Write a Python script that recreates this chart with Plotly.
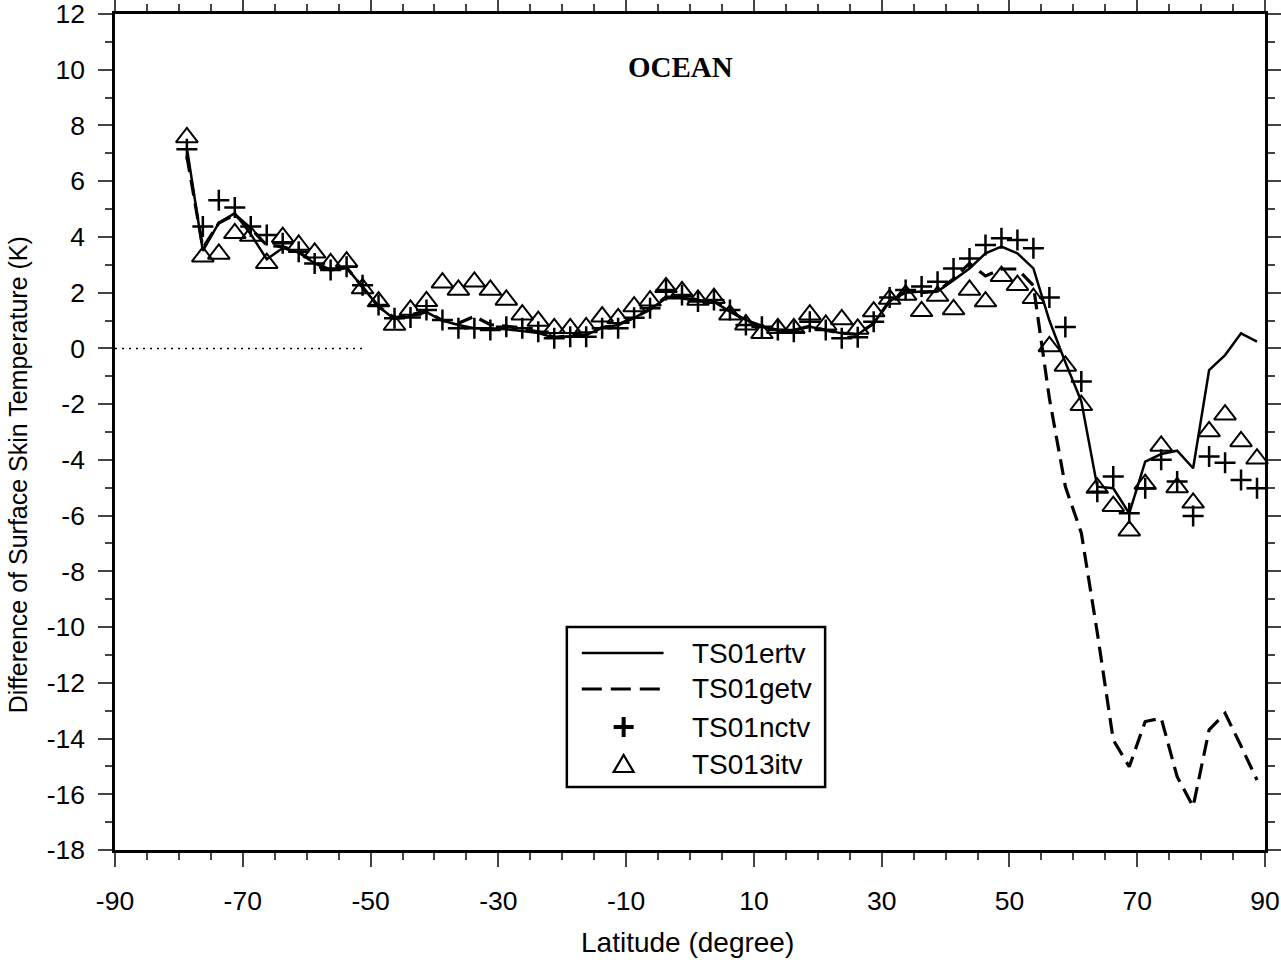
import plotly.graph_objects as go

# Latitude of zonal-mean bands (degree)
lat = [-78.75, -76.25, -73.75, -71.25, -68.75, -66.25, -63.75, -61.25, -58.75, -56.25,
       -53.75, -51.25, -48.75, -46.25, -43.75, -41.25, -38.75, -36.25, -33.75, -31.25,
       -28.75, -26.25, -23.75, -21.25, -18.75, -16.25, -13.75, -11.25, -8.75, -6.25,
       -3.75, -1.25, 1.25, 3.75, 6.25, 8.75, 11.25, 13.75, 16.25, 18.75,
       21.25, 23.75, 26.25, 28.75, 31.25, 33.75, 36.25, 38.75, 41.25, 43.75,
       46.25, 48.75, 51.25, 53.75, 56.25, 58.75, 61.25, 63.75, 66.25, 68.75,
       71.25, 73.75, 76.25, 78.75, 81.25, 83.75, 86.25, 88.75]

# Surface skin temperature differences (K)
ts01ertv = [7.2, 3.5, 4.5, 4.85, 4.1, 3.2, 3.6, 3.45, 3.05, 2.8,
            2.9, 2.2, 1.5, 1.05, 1.15, 1.3, 1.0, 0.84, 0.72, 0.72,
            0.69, 0.62, 0.55, 0.38, 0.42, 0.48, 0.75, 0.84, 1.1, 1.4,
            1.8, 1.8, 1.74, 1.68, 1.32, 1.02, 0.78, 0.66, 0.66, 0.78,
            0.66, 0.54, 0.5, 0.9, 1.7, 2.0, 2.04, 2.04, 2.45, 2.87,
            3.41, 3.65, 3.41, 2.87, 1.0, -0.5, -1.9, -4.96, -5.02, -5.92,
            -4.06, -3.79, -3.67, -4.30, -0.78, -0.24, 0.54, 0.24]

ts01getv = [6.9, 3.6, 4.5, 4.8, 4.3, 3.7, 3.65, 3.45, 3.1, 2.8,
            2.9, 2.2, 1.5, 1.1, 1.2, 1.35, 1.0, 0.9, 1.15, 0.85,
            0.8, 0.7, 0.6, 0.4, 0.45, 0.5, 0.75, 0.85, 1.1, 1.4,
            1.85, 1.8, 1.75, 1.7, 1.35, 1.0, 0.8, 0.65, 0.65, 0.8,
            0.65, 0.55, 0.5, 0.9, 1.7, 2.05, 2.0, 2.05, 2.5, 3.05,
            2.6, 2.85, 2.85, 2.25, -1.79, -4.96, -6.62, -10.2, -14.05, -15.01,
            -13.39, -13.27, -15.37, -16.44, -13.69, -13.09, -14.27, -15.49]

ts01nctv = [7.15, 4.37, 5.32, 5.06, 4.37, 4.07, 3.77, 3.47, 3.05, 2.81,
            2.93, 2.27, 1.56, 1.08, 1.11, 1.38, 1.02, 0.72, 0.72, 0.66,
            0.78, 0.72, 0.60, 0.36, 0.42, 0.42, 0.72, 0.72, 1.1, 1.44,
            2.10, 1.92, 1.68, 1.74, 1.38, 0.84, 0.78, 0.66, 0.60, 0.96,
            0.66, 0.36, 0.4, 0.96, 1.83, 2.10, 2.22, 2.39, 2.87, 3.23,
            3.71, 3.95, 3.89, 3.59, 1.83, 0.77, -1.19, -5.14, -4.60, -5.92,
            -5.02, -4.00, -4.78, -6.01, -3.88, -4.10, -4.72, -5.02]

ts013itv = [7.57, 3.29, 3.39, 4.13, 4.03, 3.06, 3.99, 3.71, 3.43, 3.05,
            3.11, 2.15, 1.68, 0.84, 1.38, 1.69, 2.36, 2.10, 2.39, 2.10,
            1.74, 1.21, 0.98, 0.72, 0.72, 0.75, 1.14, 1.08, 1.50, 1.71,
            2.19, 2.05, 1.74, 1.80, 1.21, 0.85, 0.54, 0.72, 0.72, 1.21,
            0.84, 1.04, 0.70, 1.32, 1.77, 1.92, 1.33, 1.88, 1.40, 2.10,
            1.68, 2.59, 2.27, 1.80, 0.07, -0.63, -2.04, -5.01, -5.66, -6.54,
            -4.87, -3.50, -4.99, -5.54, -2.98, -2.38, -3.34, -3.96]

# Dotted zero reference over the southern ocean
zero_ref_lat = [-90, -51]
zero_ref_val = [0, 0]

series_names = ["TS01ertv", "TS01getv", "TS01nctv", "TS013itv"]
x_ticks = [-90, -70, -50, -30, -10, 10, 30, 50, 70, 90]
y_ticks = [-18, -16, -14, -12, -10, -8, -6, -4, -2, 0, 2, 4, 6, 8, 10, 12]

SANS = "Liberation Sans, Arial, Helvetica, sans-serif"
SERIF = "Liberation Serif, Times New Roman, serif"
DASH = "16px,8px"

fig = go.Figure()

fig.add_trace(go.Scatter(x=zero_ref_lat, y=zero_ref_val, mode="lines",
                         line=dict(color="black", width=1.5, dash="2px,5px"),
                         hoverinfo="skip", showlegend=False))
fig.add_trace(go.Scatter(x=lat, y=ts01ertv, mode="lines", name=series_names[0],
                         line=dict(color="black", width=2.5), showlegend=False))
fig.add_trace(go.Scatter(x=lat, y=ts01getv, mode="lines", name=series_names[1],
                         line=dict(color="black", width=3.2, dash=DASH), showlegend=False))
fig.add_trace(go.Scatter(x=lat, y=ts01nctv, mode="markers", name=series_names[2],
                         marker=dict(symbol="cross-thin", size=15, color="black",
                                     line=dict(color="black", width=2.5)),
                         cliponaxis=False, showlegend=False))
fig.add_trace(go.Scatter(x=lat, y=ts013itv, mode="markers", name=series_names[3],
                         marker=dict(symbol="triangle-up-open", size=19, color="black",
                                     line=dict(color="black", width=2)),
                         cliponaxis=False, showlegend=False))

# Hand-built legend box (line samples are longer than Plotly's defaults)
box = dict(x0=0.3929, x1=0.6175, y0=0.0754, y1=0.2667)
rows_y = [0.2356, 0.1926, 0.1471, 0.1017]
sample_x = (0.4059, 0.4770)
marker_x = 0.4423
text_x = 0.5004

shapes = [dict(type="rect", xref="paper", yref="paper", x0=box["x0"], x1=box["x1"],
               y0=box["y0"], y1=box["y1"], line=dict(color="black", width=2.5),
               fillcolor="white", layer="above")]
shapes.append(dict(type="line", xref="paper", yref="paper", x0=sample_x[0], x1=sample_x[1],
                   y0=rows_y[0], y1=rows_y[0], line=dict(color="black", width=2.5)))
shapes.append(dict(type="line", xref="paper", yref="paper", x0=sample_x[0], x1=sample_x[1],
                   y0=rows_y[1], y1=rows_y[1], line=dict(color="black", width=3, dash="20px,9px")))
shapes.append(dict(type="path", xref="paper", yref="paper", xsizemode="pixel", ysizemode="pixel",
                   xanchor=marker_x, yanchor=rows_y[2],
                   path="M-10,0 L10,0 M0,-10 L0,10", line=dict(color="black", width=4)))
shapes.append(dict(type="path", xref="paper", yref="paper", xsizemode="pixel", ysizemode="pixel",
                   xanchor=marker_x, yanchor=rows_y[3],
                   path="M-10,-7 L10,-7 L0,10 Z", line=dict(color="black", width=2.2)))

annotations = []
for name, yy in zip(series_names, rows_y):
    annotations.append(dict(text=name, xref="paper", yref="paper", x=text_x, y=yy,
                            xanchor="left", yanchor="middle", showarrow=False,
                            font=dict(family=SANS, size=28, color="black")))
annotations.append(dict(text="<b>OCEAN</b>", xref="paper", yref="paper", x=0.492, y=0.937,
                        xanchor="center", yanchor="middle", showarrow=False,
                        font=dict(family=SERIF, size=29, color="black")))
# Axis titles placed as free text
annotations.append(dict(text="Latitude (degree)", xref="paper", yref="paper", x=0.4974, y=-0.1112,
                        xanchor="center", yanchor="middle", showarrow=False,
                        font=dict(family=SANS, size=28, color="black")))
annotations.append(dict(text="Difference of Surface Skin Temperature (K)", xref="paper", yref="paper",
                        x=-0.0841, y=0.4486, xanchor="center", yanchor="middle", textangle=-90,
                        showarrow=False, font=dict(family=SANS, size=25, color="black")))

axis_common = dict(showline=True, linecolor="black", linewidth=2.5, mirror="ticks",
                   ticks="outside", ticklen=14, tickwidth=1.5, tickcolor="#444",
                   showgrid=False, zeroline=False, automargin=False,
                   ticklabeloverflow="allow",
                   tickfont=dict(family=SANS, size=26.5, color="black"))

fig.update_layout(
    width=1281, height=960,
    margin=dict(l=115, r=16, t=14, b=110),
    paper_bgcolor="white", plot_bgcolor="white",
    shapes=shapes, annotations=annotations,
    xaxis=dict(range=[-90, 90], tickmode="array", tickvals=x_ticks,
               ticktext=[str(v) for v in x_ticks], ticklabelstandoff=11,
               minor=dict(dtick=5, tick0=-90, ticks="outside", ticklen=7, tickwidth=1.5, tickcolor="#444"),
               **axis_common),
    yaxis=dict(range=[-18, 12], tickmode="array", tickvals=y_ticks,
               ticktext=[str(v) for v in y_ticks], ticklabelstandoff=8,
               minor=dict(dtick=1, tick0=-18, ticks="outside", ticklen=7, tickwidth=1.5, tickcolor="#444"),
               **axis_common),
)

fig.write_html("out.html")
